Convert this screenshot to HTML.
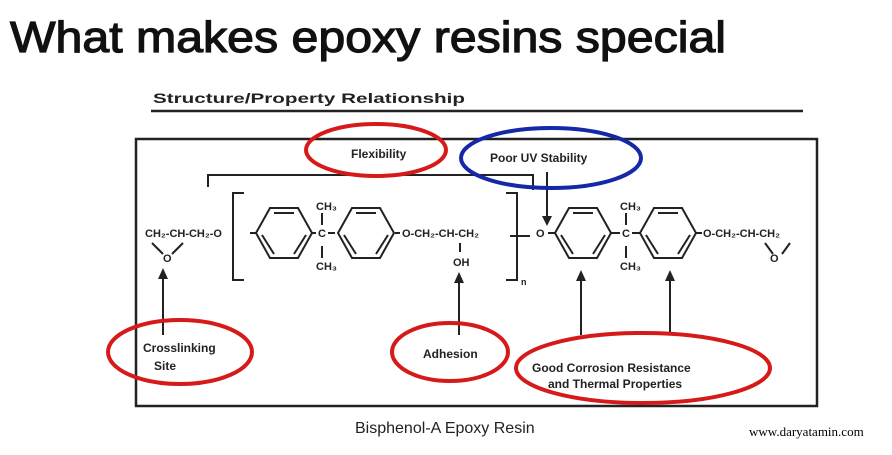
<!DOCTYPE html>
<html><head><meta charset="utf-8"><style>html,body{margin:0;padding:0;background:#fff}</style></head>
<body>
<svg width="892" height="450" viewBox="0 0 892 450" xmlns="http://www.w3.org/2000/svg" font-family="Liberation Sans, sans-serif">
<defs>
<g id="r" stroke="#222" stroke-width="2" fill="none"><polygon points="-28,0 -14,-25 14,-25 28,0 14,25 -14,25"/><line x1="-10" y1="-20" x2="10" y2="-20"/><line x1="-22" y1="2" x2="-10" y2="21"/><line x1="22" y1="2" x2="10" y2="21"/></g>
</defs>
<text x="10" y="52" font-size="44" stroke="#111" stroke-width="1.2" textLength="716" lengthAdjust="spacingAndGlyphs" fill="#111">What makes epoxy resins special</text>
<text x="153" y="103" font-size="14" font-weight="bold" textLength="312" lengthAdjust="spacingAndGlyphs" fill="#222">Structure/Property Relationship</text>
<line x1="151" y1="111" x2="803" y2="111" stroke="#222" stroke-width="2.5"/>
<rect x="136" y="139" width="681" height="267" fill="none" stroke="#222" stroke-width="2.5"/>
<g stroke="#222" stroke-width="2" fill="none">
<polyline points="208,187 208,175 533,175 533,190"/>
<line x1="547" y1="172" x2="547" y2="220"/>
<polyline points="244,193 233,193 233,280 244,280"/>
<polyline points="506,193 517,193 517,280 506,280"/>
<line x1="510" y1="236" x2="530" y2="236"/>
<line x1="322" y1="213" x2="322" y2="225"/><line x1="322" y1="246" x2="322" y2="258"/>
<line x1="626" y1="213" x2="626" y2="225"/><line x1="626" y1="246" x2="626" y2="258"/>
<line x1="152" y1="243" x2="163" y2="254"/><line x1="183" y1="243" x2="172" y2="254"/>
<line x1="765" y1="243" x2="773" y2="254"/><line x1="790" y1="243" x2="782" y2="254"/>
<line x1="460" y1="243" x2="460" y2="252"/>
<line x1="163" y1="335" x2="163" y2="276"/><line x1="459" y1="335" x2="459" y2="280"/>
<line x1="581" y1="335" x2="581" y2="278"/><line x1="670" y1="335" x2="670" y2="278"/>
<line x1="250" y1="233" x2="256" y2="233"/><line x1="312" y1="233" x2="316" y2="233"/><line x1="328" y1="233" x2="335" y2="233"/><line x1="395" y1="233" x2="400" y2="233"/>
<line x1="548" y1="233" x2="555" y2="233"/><line x1="611" y1="233" x2="620" y2="233"/><line x1="632" y1="233" x2="640" y2="233"/><line x1="696" y1="233" x2="702" y2="233"/>
</g>
<use href="#r" x="284" y="233"/><use href="#r" x="366" y="233"/><use href="#r" x="583" y="233"/><use href="#r" x="668" y="233"/>
<g fill="#222">
<polygon points="547,226 542,216 552,216"/>
<polygon points="163,268 158,279 168,279"/><polygon points="459,272 454,283 464,283"/>
<polygon points="581,270 576,281 586,281"/><polygon points="670,270 665,281 675,281"/>
</g>
<g font-size="11" fill="#222" font-weight="bold">
<text x="145" y="237">CH₂-CH-CH₂-O</text>
<text x="163" y="262">O</text>
<text x="316" y="210">CH₃</text><text x="318" y="237">C</text><text x="316" y="270">CH₃</text>
<text x="402" y="237">O-CH₂-CH-CH₂</text>
<text x="453" y="266">OH</text>
<text x="521" y="285" font-size="9">n</text>
<text x="536" y="237">O</text>
<text x="620" y="210">CH₃</text><text x="622" y="237">C</text><text x="620" y="270">CH₃</text>
<text x="703" y="237">O-CH₂-CH-CH₂</text>
<text x="770" y="262">O</text>
</g>
<g fill="none" stroke-width="4">
<ellipse cx="376" cy="150" rx="70" ry="26" stroke="#d61a1a"/>
<ellipse cx="551" cy="158" rx="90" ry="30" stroke="#1428a8"/>
<ellipse cx="180" cy="352" rx="72" ry="32" stroke="#d61a1a"/>
<ellipse cx="450" cy="352" rx="58" ry="29" stroke="#d61a1a"/>
<ellipse cx="643" cy="368" rx="127" ry="35" stroke="#d61a1a"/>
</g>
<g font-size="12" font-weight="bold" fill="#222">
<text x="351" y="158">Flexibility</text>
<text x="490" y="162">Poor UV Stability</text>
<text x="143" y="352">Crosslinking</text>
<text x="154" y="370">Site</text>
<text x="423" y="358">Adhesion</text>
<text x="532" y="372">Good Corrosion Resistance</text>
<text x="548" y="388">and Thermal Properties</text>
</g>
<text x="355" y="433" font-size="16" fill="#222">Bisphenol-A Epoxy Resin</text>
<text x="749" y="436" font-size="13" font-family="Liberation Serif, serif" fill="#000">www.daryatamin.com</text>
</svg>
</body></html>
